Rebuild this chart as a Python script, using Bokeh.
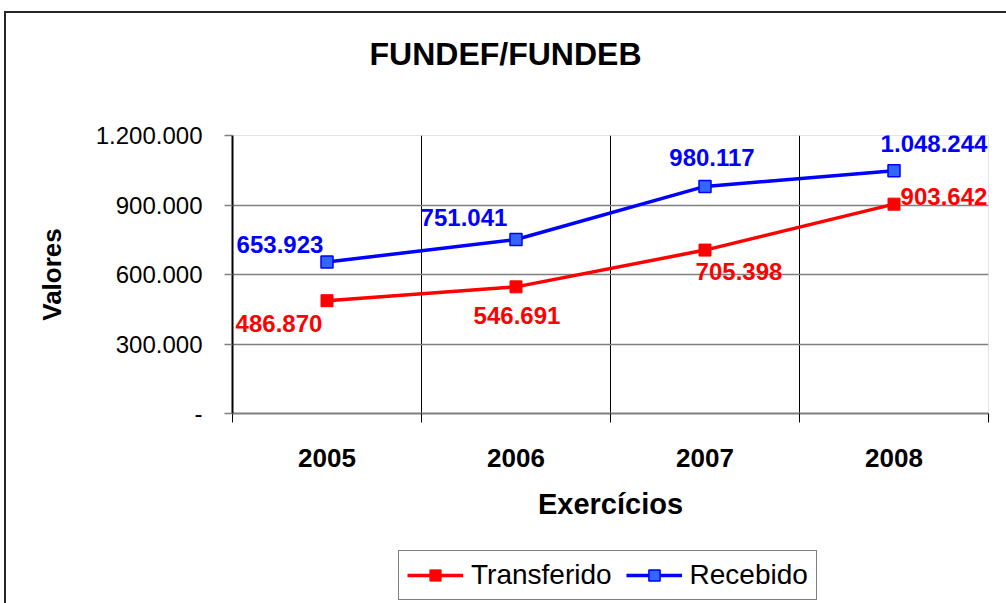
from bokeh.plotting import figure
from bokeh.models import (Range1d, FixedTicker, ColumnDataSource, LabelSet, Title,
                          Legend, LegendItem)
from bokeh.layouts import column
from bokeh.core.properties import value
from bokeh.embed import file_html
from bokeh.resources import INLINE

# ---- data ----
categories = ["2005", "2006", "2007", "2008"]
transferido = [486870, 546691, 705398, 903642]
recebido = [653923, 751041, 980117, 1048244]
y_ticks = [0, 300000, 600000, 900000, 1200000]
y_tick_labels = ["-", "300.000", "600.000", "900.000", "1.200.000"]
title_text = "FUNDEF/FUNDEB"
series_names = ["Transferido", "Recebido"]

# ---- layout of value labels (screen px offsets) ----
rec_dx = [-47, -52, 7, 40]
rec_dy = [18, 22, 29, 27]
tra_dx = [-48, 1, 34, 50]
tra_dy = [-23, -29, -21, 8]

FONT = "Liberation Sans"
RED, BLUE, BLUE_FILL = "#FF0000", "#0000FF", "#3366FF"


def fmt(v):
    return f"{v:,}".replace(",", ".")


xs = [i + 0.5 for i in range(len(categories))]

p = figure(width=1006, height=540, output_backend="svg", toolbar_location=None,
           x_range=Range1d(0, len(categories)), y_range=Range1d(y_ticks[0], y_ticks[-1]),
           min_border_left=232, min_border_right=18, min_border_top=135, min_border_bottom=127)
p.title = None
p.background_fill_color = "white"
p.border_fill_alpha = 0
p.outline_line_color = "#e4e4e4"
p.outline_line_width = 1

# x axis
xa = p.xaxis[0]
xa.ticker = FixedTicker(ticks=xs, minor_ticks=list(range(len(categories) + 1)))
xa.major_label_overrides = {x: c for x, c in zip(xs, categories)}
xa.major_tick_line_color = None
xa.major_tick_out = 0
xa.major_tick_in = 0
xa.minor_tick_out = 9
xa.minor_tick_in = 0
xa.minor_tick_line_color = "black"
xa.minor_tick_line_width = 1
xa.axis_line_color = "#808080"
xa.axis_line_width = 2
xa.major_label_text_font = FONT
xa.major_label_text_font_size = "26px"
xa.major_label_text_font_style = "bold"
xa.major_label_text_color = "black"
xa.major_label_standoff = 26
xa.axis_label = "Exercícios"
xa.axis_label_text_font = FONT
xa.axis_label_text_font_size = "29px"
xa.axis_label_text_font_style = "bold"
xa.axis_label_text_color = "black"
xa.axis_label_standoff = 18

# y axis
ya = p.yaxis[0]
ya.ticker = FixedTicker(ticks=y_ticks, minor_ticks=[])
ya.major_label_overrides = {t: l for t, l in zip(y_ticks, y_tick_labels)}
ya.major_tick_out = 8
ya.major_tick_in = 0
ya.major_tick_line_color = "#808080"
ya.major_tick_line_width = 1.5
ya.axis_line_color = "black"
ya.axis_line_width = 2
ya.major_label_text_font = FONT
ya.major_label_text_font_size = "24px"
ya.major_label_text_color = "black"
ya.major_label_standoff = 22
ya.axis_label = "Valores"
ya.axis_label_text_font = FONT
ya.axis_label_text_font_size = "26px"
ya.axis_label_text_font_style = "bold"
ya.axis_label_text_color = "black"
ya.axis_label_standoff = 26

# grids
p.xgrid.ticker = FixedTicker(ticks=list(range(1, len(categories))))
p.xgrid.grid_line_color = "black"
p.xgrid.grid_line_width = 1
p.ygrid.ticker = FixedTicker(ticks=y_ticks[1:-1])
p.ygrid.grid_line_color = "#808080"
p.ygrid.grid_line_width = 1.5

# series
src = ColumnDataSource(dict(
    x=xs, tra=transferido, rec=recebido,
    tra_lbl=[fmt(v) for v in transferido], rec_lbl=[fmt(v) for v in recebido],
    tra_dx=tra_dx, tra_dy=tra_dy, rec_dx=rec_dx, rec_dy=rec_dy))


def draw_series(fig, source):
    a = fig.line("x", "tra", source=source, line_color=RED, line_width=3.5)
    b = fig.scatter("x", "tra", source=source, marker="square", size=12,
                    fill_color=RED, line_color=RED, line_width=1)
    c = fig.line("x", "rec", source=source, line_color=BLUE, line_width=3.5)
    d = fig.scatter("x", "rec", source=source, marker="square", size=12,
                    fill_color=BLUE_FILL, line_color=BLUE, line_width=1.5)
    return (a, b), (c, d)


draw_series(p, src)

lab_rec = LabelSet(x="x", y="rec", text="rec_lbl", source=src, x_offset="rec_dx", y_offset="rec_dy",
                   text_font=value(FONT), text_font_size="24px", text_font_style="bold",
                   text_color=BLUE, text_align="center", text_baseline="middle")
lab_tra = LabelSet(x="x", y="tra", text="tra_lbl", source=src, x_offset="tra_dx", y_offset="tra_dy",
                   text_font=value(FONT), text_font_size="24px", text_font_style="bold",
                   text_color=RED, text_align="center", text_baseline="middle")
p.add_layout(lab_rec)
p.add_layout(lab_tra)

# chart title (a blank spacer keeps it away from the plot area)
p.add_layout(Title(text=" ", text_font_size="2px", standoff=55), "above")
p.add_layout(Title(text=title_text, text_font=FONT, text_font_size="32px",
                   text_font_style="bold", text_color="black", align="left",
                   offset=137, standoff=10), "above")

# ---- legend strip below the chart (series drawn out of its view, only the legend shows) ----
pl = figure(width=1006, height=63, output_backend="svg", toolbar_location=None,
            x_axis_type=None, y_axis_type=None, min_border=0,
            x_range=Range1d(0, 1), y_range=Range1d(-2, -1))
pl.title = None
pl.grid.visible = False
pl.outline_line_color = None
pl.background_fill_alpha = 0
pl.border_fill_alpha = 0
tra_r, rec_r = draw_series(pl, src)
legend = Legend(items=[LegendItem(label=series_names[0], renderers=list(tra_r)),
                       LegendItem(label=series_names[1], renderers=list(rec_r))],
                orientation="horizontal", location=(166, 3), margin=0, padding=8,
                spacing=14, label_standoff=8, glyph_width=56, glyph_height=28,
                label_text_font=FONT, label_text_font_size="28px", label_text_color="black",
                border_line_color="black", border_line_width=1.5,
                background_fill_color="white", background_fill_alpha=1)
pl.add_layout(legend)

layout = column(p, pl, spacing=0)
# outer chart-area border (left and top edges visible in the picture)
layout.styles = {
    "background-color": "white",
    "background-image": "linear-gradient(#262626, #262626), linear-gradient(#262626, #262626)",
    "background-position": "4px 11px, 4px 11px",
    "background-size": "2px 100%, 100% 2px",
    "background-repeat": "no-repeat",
}

open("out.html", "w").write(file_html(layout, INLINE))
